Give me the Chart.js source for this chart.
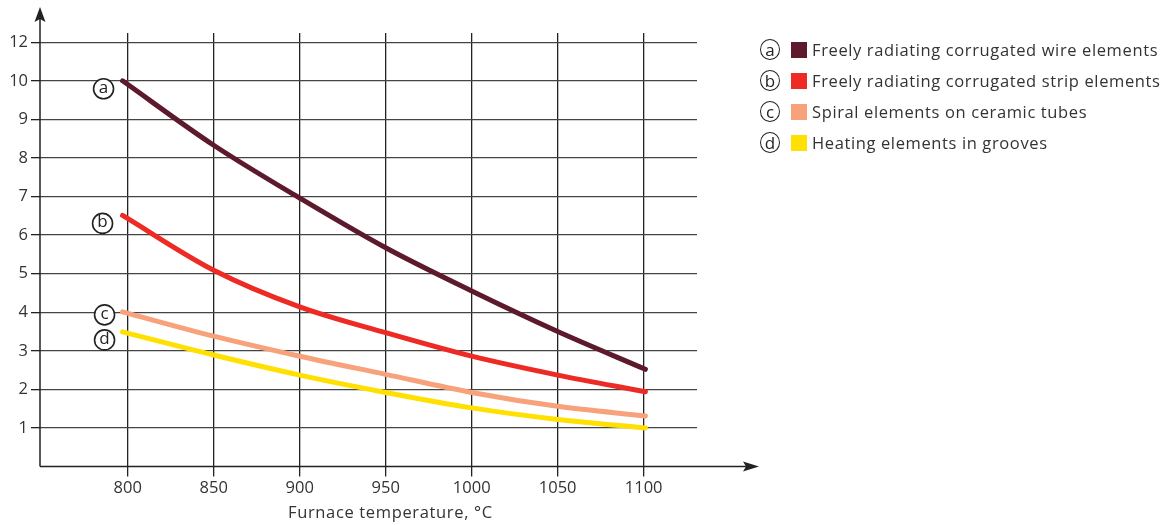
<!DOCTYPE html>
<html>
<head>
<meta charset="utf-8">
<script src="https://cdn.jsdelivr.net/npm/chart.js@4.4.1/dist/chart.umd.min.js"></script>
<style>
  html, body { margin: 0; padding: 0; background: #fff; }
  #wrap { position: relative; width: 1168px; height: 525px; font-family: "Open Sans", Roboto, sans-serif; color: #333; }
  #chart { position: absolute; left: 0; top: 0; }
  #xtitle { position: absolute; left: 288px; top: 500px; font-size: 16.5px; letter-spacing: 0.65px; white-space: nowrap; }
  .legend { position: absolute; left: 760px; top: 34px; }
  .row { display: flex; align-items: center; height: 31px; font-size: 16.5px; letter-spacing: 0.62px; white-space: nowrap; }
  .circ { width: 18px; height: 18px; border: 1.6px solid #222; border-radius: 50%; display: flex; align-items: center; justify-content: center; font-size: 17px; line-height: 1; color: #222; letter-spacing: 0; box-sizing: content-box; margin-right: 11px; padding-bottom: 1px; }
  .sq { width: 16px; height: 16px; margin-right: 5px; }
</style>
</head>
<body>
<div id="wrap">
  <canvas id="chart" width="1168" height="525"></canvas>
  <div id="xtitle">Furnace temperature, °C</div>
  <div class="legend" id="legend"></div>
</div>
<script>
const temps = [797, 850, 900, 950, 1000, 1050, 1101];
const wireValues = [10.0, 8.33, 6.96, 5.67, 4.55, 3.50, 2.52];
const stripValues = [6.51, 5.09, 4.14, 3.47, 2.86, 2.37, 1.94];
const spiralValues = [4.01, 3.38, 2.86, 2.39, 1.92, 1.56, 1.31];
const grooveValues = [3.49, 2.89, 2.37, 1.92, 1.52, 1.22, 1.00];

const seriesNames = [
    "Freely radiating corrugated wire elements",
    "Freely radiating corrugated strip elements",
    "Spiral elements on ceramic tubes",
    "Heating elements in grooves"
];
const seriesLetters = ["a", "b", "c", "d"];
const seriesColors = ["#5e1a2d", "#ee2a24", "#f7a27b", "#ffe000"];

const xTicks = [800, 850, 900, 950, 1000, 1050, 1100];
const yTicks = [1, 2, 3, 4, 5, 6, 7, 8, 9, 10, 11];
const yTickLabels = ["1", "2", "3", "4", "5", "6", "7", "8", "9", "10", "12"];

const allValues = [wireValues, stripValues, spiralValues, grooveValues];

// circled letter offsets from the first point of each curve
const letterOffsets = [[-19, 8], [-20, 8], [-18, 3], [-18, 8]];

const datasets = allValues.map((vals, i) => ({
    label: seriesNames[i],
    data: temps.map((t, j) => ({ x: t, y: vals[j] })),
    borderColor: seriesColors[i],
    backgroundColor: seriesColors[i],
    borderWidth: 5,
    borderCapStyle: "round",
    pointRadius: 0,
    cubicInterpolationMode: "monotone",
    fill: false
}));

function circledLetter(ctx, x, y, letter) {
    ctx.save();
    ctx.beginPath();
    ctx.arc(x, y, 10, 0, Math.PI * 2);
    ctx.lineWidth = 1.6;
    ctx.strokeStyle = "#222";
    ctx.fillStyle = "#fff";
    ctx.fill();
    ctx.stroke();
    ctx.fillStyle = "#222";
    ctx.font = "17px 'Open Sans', sans-serif";
    ctx.textAlign = "center";
    ctx.textBaseline = "middle";
    ctx.fillText(letter, x, y - 1);
    ctx.restore();
}

const axesPlugin = {
    id: "axesPlugin",
    afterDraw(chart) {
        const ctx = chart.ctx;
        const area = chart.chartArea;
        const x0 = area.left;
        const y0 = area.bottom;
        ctx.save();
        ctx.strokeStyle = "#222";
        ctx.fillStyle = "#222";
        ctx.lineWidth = 1.5;
        ctx.beginPath();
        ctx.moveTo(x0, y0);
        ctx.lineTo(x0, 14);
        ctx.moveTo(x0, y0);
        ctx.lineTo(752, y0);
        ctx.stroke();
        // y arrow
        ctx.beginPath();
        ctx.moveTo(x0, 7);
        ctx.lineTo(x0 + 5.5, 22);
        ctx.lineTo(x0, 19);
        ctx.lineTo(x0 - 5.5, 22);
        ctx.closePath();
        ctx.fill();
        // x arrow
        ctx.beginPath();
        ctx.moveTo(759, y0);
        ctx.lineTo(743, y0 - 5);
        ctx.lineTo(746, y0);
        ctx.lineTo(743, y0 + 5);
        ctx.closePath();
        ctx.fill();
        ctx.restore();

        chart.data.datasets.forEach((ds, i) => {
            const p = chart.getDatasetMeta(i).data[0];
            circledLetter(ctx, p.x + letterOffsets[i][0], p.y + letterOffsets[i][1], seriesLetters[i]);
        });
    }
};

const tickFont = { family: "Open Sans", size: 16.5 };

new Chart(document.getElementById("chart"), {
    type: "line",
    data: { datasets },
    options: {
        responsive: false,
        animation: false,
        layout: { padding: { left: 0, right: 471, top: 33, bottom: 0 } },
        plugins: { legend: { display: false }, tooltip: { enabled: false } },
        scales: {
            x: {
                type: "linear",
                min: 749,
                max: 1131,
                afterBuildTicks: s => { s.ticks = xTicks.map(v => ({ value: v })); },
                afterFit: s => { s.height = 58.5; },
                grid: { color: "#222", lineWidth: 1.3, tickLength: 10, tickColor: "#222" },
                border: { display: false },
                ticks: { color: "#333", font: tickFont, padding: 2, maxRotation: 0, callback: v => String(v) }
            },
            y: {
                type: "linear",
                min: 0,
                max: 11.24,
                afterBuildTicks: s => { s.ticks = yTicks.map(v => ({ value: v })); },
                afterFit: s => { s.width = 40; },
                grid: { color: "#444", lineWidth: 1.3, tickLength: 9, tickColor: "#222" },
                border: { display: false },
                ticks: {
                    color: "#333",
                    font: tickFont,
                    padding: 3,
                    callback: v => yTickLabels[yTicks.indexOf(v)]
                }
            }
        }
    },
    plugins: [axesPlugin]
});

const legendEl = document.getElementById("legend");
seriesNames.forEach((name, i) => {
    const row = document.createElement("div");
    row.className = "row";
    row.innerHTML = `<span class="circ">${seriesLetters[i]}</span><span class="sq" style="background:${seriesColors[i]}"></span><span>${name}</span>`;
    legendEl.appendChild(row);
});
</script>
</body>
</html>
